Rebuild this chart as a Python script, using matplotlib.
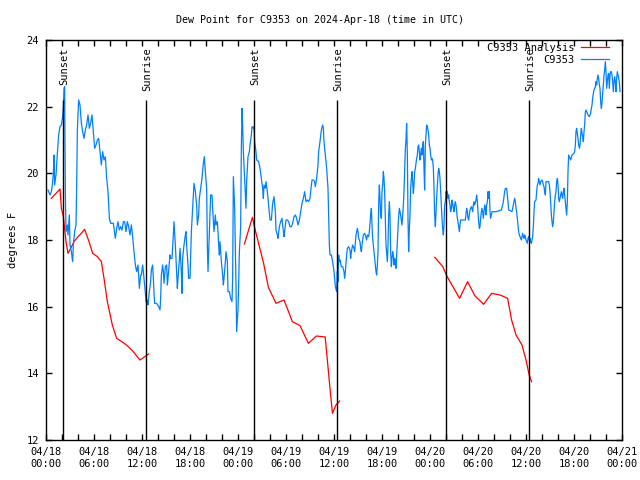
import matplotlib
matplotlib.use("Agg")
import matplotlib.pyplot as plt
import numpy as np

plt.rcParams['font.family'] = ['DejaVu Sans Mono']
plt.rcParams['font.size'] = 7.5

# hours since 2024-04-18 00:00 UTC, dew point in F
obs = [
    (0.25, 19.5), (0.5, 19.35), (0.67, 19.45), (0.79, 19.65), (0.92, 20.0), (1.0, 20.55), (1.08, 19.65),
    (1.25, 19.95), (1.42, 20.6), (1.58, 21.15), (1.75, 21.4), (1.92, 21.45), (2.08, 21.7), (2.17, 22.0),
    (2.25, 22.55), (2.33, 22.6), (2.42, 19.35), (2.5, 18.25), (2.67, 18.45), (2.75, 18.15), (2.92, 18.75),
    (3.0, 17.85), (3.17, 17.65), (3.33, 17.35), (3.42, 17.85), (3.58, 18.25), (3.75, 18.45), (3.83, 19.55),
    (3.92, 21.3), (4.08, 22.2), (4.25, 22.05), (4.42, 21.5), (4.58, 21.25), (4.75, 21.05), (4.92, 21.3),
    (5.08, 21.45), (5.25, 21.75), (5.42, 21.35), (5.58, 21.5), (5.75, 21.75), (5.92, 21.25), (6.08, 20.75),
    (6.25, 20.85), (6.42, 21.0), (6.58, 21.05), (6.75, 20.65), (6.92, 20.25), (7.08, 20.65), (7.25, 20.4),
    (7.42, 20.5), (7.58, 19.85), (7.75, 19.45), (7.92, 18.65), (8.08, 18.5), (8.42, 18.5), (8.67, 18.05),
    (8.83, 18.35), (9.0, 18.55), (9.17, 18.3), (9.33, 18.4), (9.5, 18.3), (9.67, 18.55), (9.83, 18.55),
    (10.0, 18.25), (10.17, 18.55), (10.33, 18.4), (10.5, 18.15), (10.67, 18.45), (10.83, 18.1), (11.0, 17.65),
    (11.17, 17.25), (11.33, 17.05), (11.5, 17.25), (11.67, 16.55), (11.83, 16.95), (11.92, 16.95),
    (12.08, 17.25), (12.17, 17.05), (12.33, 16.65), (12.42, 16.4), (12.5, 16.15), (12.67, 16.2), (12.75, 16.05),
    (12.92, 16.45), (13.08, 16.75), (13.17, 17.1), (13.33, 17.25), (13.42, 16.85), (13.5, 16.4), (13.58, 16.1),
    (13.83, 16.1), (14.08, 16.0), (14.25, 15.9), (14.33, 16.25), (14.42, 16.95), (14.58, 17.25), (14.67, 17.05),
    (14.75, 16.7), (14.92, 17.2), (15.08, 17.25), (15.17, 16.65), (15.25, 16.85), (15.42, 17.35), (15.5, 17.55),
    (15.58, 17.45), (15.75, 17.45), (15.92, 18.15), (16.0, 18.55), (16.17, 17.85), (16.33, 17.05), (16.42, 16.55),
    (16.5, 16.85), (16.67, 17.4), (16.75, 17.75), (16.92, 17.05), (17.0, 16.4), (17.08, 17.45), (17.25, 17.85),
    (17.42, 18.15), (17.5, 18.25), (17.58, 17.85), (17.75, 17.25), (17.83, 16.85), (18.0, 16.85), (18.17, 18.25),
    (18.33, 18.95), (18.5, 19.7), (18.67, 19.45), (18.83, 19.05), (18.92, 18.45), (19.08, 18.75), (19.17, 19.25),
    (19.33, 19.55), (19.5, 19.85), (19.67, 20.3), (19.79, 20.5), (19.92, 20.05), (20.08, 19.55), (20.17, 17.85),
    (20.25, 17.05), (20.42, 18.25), (20.58, 19.35), (20.75, 19.35), (20.83, 18.95), (21.0, 18.25), (21.17, 18.75),
    (21.25, 18.45), (21.42, 18.55), (21.5, 18.25), (21.58, 17.85), (21.67, 17.55), (21.75, 17.95), (21.92, 17.35),
    (22.08, 16.95), (22.17, 16.65), (22.25, 16.85), (22.42, 17.35), (22.5, 17.65), (22.67, 17.35), (22.75, 16.45),
    (22.92, 16.45), (23.08, 16.25), (23.25, 16.15), (23.33, 16.85), (23.42, 19.9), (23.58, 18.95), (23.75, 16.65),
    (23.83, 15.25), (24.0, 15.9), (24.08, 16.65), (24.17, 17.65), (24.33, 18.35), (24.42, 20.75), (24.5, 21.95),
    (24.58, 21.45), (24.67, 20.65), (24.75, 20.25), (24.83, 19.85), (24.92, 19.45), (25.0, 18.95), (25.08, 19.75),
    (25.25, 20.5), (25.42, 20.65), (25.5, 20.85), (25.67, 21.15), (25.75, 21.4), (25.92, 21.35), (26.0, 21.4),
    (26.08, 20.95), (26.25, 20.65), (26.33, 20.4), (26.58, 20.35), (26.75, 20.15), (26.92, 19.85), (27.08, 19.55),
    (27.17, 19.25), (27.25, 19.65), (27.42, 19.55), (27.5, 19.75), (27.67, 19.45), (27.75, 19.25), (27.92, 18.85),
    (28.0, 18.6), (28.17, 18.6), (28.33, 19.1), (28.5, 19.3), (28.67, 18.85), (28.75, 18.3), (28.92, 18.15),
    (29.0, 18.05), (29.17, 18.4), (29.33, 18.55), (29.5, 18.65), (29.58, 18.45), (29.75, 18.1), (29.83, 18.25),
    (30.0, 18.6), (30.17, 18.6), (30.33, 18.55), (30.5, 18.4), (30.67, 18.4), (30.83, 18.5), (31.0, 18.7),
    (31.17, 18.75), (31.33, 18.65), (31.5, 18.45), (31.67, 18.6), (31.83, 18.85), (32.0, 19.1), (32.17, 19.25),
    (32.33, 19.45), (32.5, 19.15), (32.67, 19.2), (32.83, 19.15), (33.0, 19.25), (33.17, 19.65), (33.25, 19.8),
    (33.42, 19.8), (33.58, 19.75), (33.67, 19.6), (33.83, 19.85), (34.0, 20.25), (34.08, 20.65), (34.25, 20.95),
    (34.42, 21.3), (34.58, 21.45), (34.67, 21.35), (34.75, 20.95), (34.92, 20.55), (35.08, 20.15), (35.25, 19.55),
    (35.42, 17.85), (35.5, 17.55), (35.67, 17.55), (35.83, 17.35), (36.0, 17.05), (36.17, 16.6), (36.33, 16.45),
    (36.42, 17.05), (36.5, 16.75), (36.58, 17.55), (36.67, 17.35), (36.75, 17.4), (36.92, 17.2), (37.08, 17.2),
    (37.25, 17.05), (37.33, 16.85), (37.42, 17.05), (37.58, 17.55), (37.67, 17.75), (37.83, 17.8), (38.0, 17.7),
    (38.08, 17.45), (38.17, 17.65), (38.33, 17.85), (38.5, 17.75), (38.58, 17.65), (38.75, 18.15), (38.92, 18.35),
    (39.0, 18.25), (39.08, 18.05), (39.25, 17.95), (39.33, 17.75), (39.42, 17.65), (39.5, 17.85), (39.67, 18.15),
    (39.83, 18.2), (39.92, 18.15), (40.08, 18.0), (40.17, 18.15), (40.33, 18.1), (40.42, 18.25), (40.58, 18.75),
    (40.67, 18.95), (40.75, 18.45), (40.83, 18.05), (41.0, 17.65), (41.08, 17.45), (41.17, 17.25), (41.25, 17.05),
    (41.33, 16.95), (41.42, 17.25), (41.5, 17.65), (41.58, 19.05), (41.67, 19.65), (41.75, 19.25), (41.83, 18.75),
    (41.92, 18.65), (42.0, 19.45), (42.08, 19.65), (42.17, 20.05), (42.25, 19.85), (42.33, 19.45), (42.42, 18.65),
    (42.5, 17.85), (42.67, 17.35), (42.75, 17.85), (42.83, 18.75), (42.92, 19.15), (43.0, 18.7), (43.08, 17.65),
    (43.17, 17.2), (43.25, 17.45), (43.33, 17.65), (43.42, 17.55), (43.5, 17.25), (43.58, 17.45), (43.67, 17.35),
    (43.75, 17.15), (43.83, 17.55), (43.92, 18.0), (44.0, 18.35), (44.08, 18.7), (44.17, 18.95), (44.25, 18.85),
    (44.33, 18.75), (44.42, 18.6), (44.5, 18.45), (44.58, 18.75), (44.67, 19.05), (44.75, 19.45), (44.83, 20.1),
    (44.92, 20.75), (45.0, 21.0), (45.08, 21.5), (45.17, 20.55), (45.25, 18.65), (45.33, 17.65), (45.42, 18.35),
    (45.5, 18.75), (45.58, 19.55), (45.67, 19.85), (45.75, 20.05), (45.83, 19.75), (45.92, 19.4), (46.0, 19.65),
    (46.08, 20.05), (46.17, 20.15), (46.25, 20.3), (46.33, 20.45), (46.42, 20.55), (46.5, 20.8), (46.58, 20.85),
    (46.67, 20.65), (46.75, 20.4), (46.83, 20.55), (46.92, 20.75), (47.0, 20.55), (47.08, 20.85), (47.17, 20.95),
    (47.25, 20.15), (47.33, 19.5), (47.42, 20.85), (47.5, 21.15), (47.58, 21.45), (47.67, 21.4), (47.75, 21.3),
    (47.83, 21.15), (47.92, 20.85), (48.0, 20.75), (48.08, 20.55), (48.17, 20.4), (48.25, 20.45), (48.33, 20.4),
    (48.42, 20.15), (48.5, 19.55), (48.58, 18.75), (48.67, 18.4), (48.75, 18.85), (48.83, 19.25), (48.92, 19.65),
    (49.0, 19.95), (49.08, 20.15), (49.17, 20.05), (49.25, 19.85), (49.33, 19.45), (49.42, 19.05), (49.5, 18.65),
    (49.58, 18.35), (49.67, 18.15), (49.75, 18.45), (49.83, 19.05), (49.92, 19.15), (50.0, 19.45), (50.08, 19.4),
    (50.17, 19.45), (50.25, 19.25), (50.33, 19.35), (50.42, 19.15), (50.5, 19.05), (50.58, 18.85), (50.67, 18.95),
    (50.75, 19.2), (50.83, 19.1), (50.92, 18.95), (51.0, 18.85), (51.08, 19.05), (51.17, 19.15), (51.25, 19.05),
    (51.33, 18.85), (51.42, 18.65), (51.5, 18.55), (51.58, 18.4), (51.67, 18.25), (51.75, 18.45), (51.83, 18.6),
    (52.08, 18.6), (52.42, 18.6), (52.58, 18.95), (52.67, 18.85), (52.75, 18.65), (52.83, 18.6), (52.92, 18.75),
    (53.0, 18.9), (53.17, 19.0), (53.25, 18.95), (53.33, 18.85), (53.42, 19.05), (53.5, 19.15), (53.58, 19.05),
    (53.75, 19.2), (53.83, 19.35), (53.92, 19.15), (54.0, 18.85), (54.08, 18.55), (54.17, 18.35), (54.25, 18.4),
    (54.33, 18.65), (54.42, 18.85), (54.5, 18.95), (54.58, 18.85), (54.67, 18.65), (54.75, 18.85), (54.83, 19.05),
    (54.92, 18.95), (55.0, 18.75), (55.08, 19.05), (55.17, 19.15), (55.25, 19.45), (55.33, 19.25), (55.42, 19.45),
    (55.5, 18.85), (55.58, 18.65), (55.67, 18.75), (55.75, 18.85), (56.25, 18.85), (56.92, 18.9), (57.08, 19.05),
    (57.17, 19.15), (57.25, 19.3), (57.33, 19.45), (57.42, 19.55), (57.58, 19.55), (57.67, 19.35), (57.75, 19.15),
    (57.83, 18.9), (58.25, 18.85), (58.33, 18.95), (58.42, 19.05), (58.5, 19.15), (58.58, 19.25), (58.67, 19.15),
    (58.75, 18.95), (58.83, 18.85), (58.92, 18.65), (59.0, 18.45), (59.08, 18.25), (59.17, 18.15), (59.25, 18.1),
    (59.33, 18.05), (59.42, 18.0), (59.5, 18.1), (59.58, 18.2), (59.67, 18.1), (59.75, 18.05), (59.83, 18.15),
    (59.92, 18.1), (60.0, 18.0), (60.08, 17.95), (60.17, 17.9), (60.25, 18.05), (60.33, 18.1), (60.42, 18.0),
    (60.5, 18.05), (60.58, 17.95), (60.67, 17.9), (60.75, 18.0), (60.83, 18.1), (60.92, 18.4), (61.0, 18.85),
    (61.08, 19.15), (61.25, 19.2), (61.33, 19.45), (61.42, 19.65), (61.5, 19.7), (61.58, 19.85), (61.67, 19.75),
    (61.75, 19.65), (61.83, 19.75), (62.0, 19.8), (62.08, 19.75), (62.17, 19.65), (62.25, 19.6), (62.33, 19.45),
    (62.42, 19.35), (62.5, 19.75), (62.83, 19.75), (62.92, 19.65), (63.0, 19.45), (63.08, 19.15), (63.17, 18.75),
    (63.25, 18.55), (63.33, 18.4), (63.42, 18.55), (63.5, 18.85), (63.58, 19.15), (63.67, 19.35), (63.75, 19.45),
    (63.83, 19.75), (63.92, 19.85), (64.0, 19.65), (64.08, 19.25), (64.17, 19.15), (64.25, 19.25), (64.33, 19.35),
    (64.42, 19.45), (64.5, 19.35), (64.58, 19.25), (64.67, 19.45), (64.75, 19.55), (64.83, 19.35), (64.92, 19.15),
    (65.0, 18.95), (65.08, 18.75), (65.17, 19.15), (65.25, 20.05), (65.33, 20.55), (65.5, 20.45), (65.58, 20.4),
    (65.75, 20.55), (66.0, 20.6), (66.08, 20.65), (66.17, 20.85), (66.25, 21.25), (66.33, 21.35), (66.42, 21.2),
    (66.5, 21.05), (66.58, 20.85), (66.67, 20.75), (66.75, 20.85), (66.83, 21.15), (66.92, 21.35), (67.0, 21.2),
    (67.08, 21.1), (67.17, 20.95), (67.25, 21.25), (67.33, 21.45), (67.42, 21.85), (67.5, 21.9), (67.58, 21.85),
    (67.67, 21.8), (67.75, 21.75), (67.92, 21.7), (68.08, 21.8), (68.17, 21.95), (68.25, 22.05), (68.33, 22.25),
    (68.42, 22.4), (68.5, 22.5), (68.67, 22.6), (68.75, 22.75), (68.83, 22.65), (68.92, 22.85), (69.0, 22.95),
    (69.08, 22.85), (69.17, 22.65), (69.25, 22.55), (69.33, 22.15), (69.42, 21.95), (69.5, 22.1), (69.58, 22.4),
    (69.67, 22.65), (69.75, 22.95), (69.83, 23.1), (69.92, 23.35), (70.0, 23.05), (70.08, 22.55), (70.17, 22.75),
    (70.25, 22.95), (70.33, 23.0), (70.42, 22.55), (70.5, 22.95), (70.58, 23.05), (70.67, 23.05), (70.75, 22.95),
    (70.83, 22.75), (70.92, 22.45), (71.0, 22.75), (71.08, 22.9), (71.17, 22.75), (71.25, 22.45), (71.33, 22.85),
    (71.42, 23.05), (71.5, 22.95), (71.58, 22.85), (71.67, 22.75), (71.75, 22.45),
]

# analysis, three pieces
ana1 = [(0.67, 19.25), (1.75, 19.53), (1.92, 18.95), (2.17, 18.7), (2.5, 17.95), (2.75, 17.6), (3.08, 17.75),
        (3.5, 17.95), (4.0, 18.1), (4.42, 18.2), (4.83, 18.32), (5.38, 17.95), (5.83, 17.6), (6.42, 17.5),
        (6.92, 17.35), (7.25, 16.85), (7.67, 16.15), (8.29, 15.45), (8.83, 15.05), (9.67, 14.92), (10.3, 14.8),
        (10.9, 14.65), (11.75, 14.4), (12.83, 14.58)]
ana2 = [(24.8, 17.88), (25.8, 18.68), (26.1, 18.35), (27.2, 17.3), (27.8, 16.58), (28.75, 16.1), (29.75, 16.2),
        (30.8, 15.55), (31.75, 15.43), (32.8, 14.9), (33.8, 15.12), (34.9, 15.09), (35.4, 13.8), (35.8, 12.8),
        (36.25, 13.05), (36.7, 13.17)]
ana3 = [(48.6, 17.48), (49.6, 17.2), (50.1, 16.92), (51.7, 16.25), (52.7, 16.75), (53.6, 16.33), (54.7, 16.07),
        (55.7, 16.4), (56.75, 16.35), (57.7, 16.25), (58.2, 15.6), (58.75, 15.15), (59.5, 14.85), (60.0, 14.4),
        (60.4, 13.95), (60.7, 13.75)]

sunset = [2.12, 26.05, 50.05]
sunrise = [12.5, 36.42, 60.42]

xtick_hours = list(range(0, 73, 2))
xtick_names = ['04/18\n00:00', '04/18\n06:00', '04/18\n12:00', '04/18\n18:00',
               '04/19\n00:00', '04/19\n06:00', '04/19\n12:00', '04/19\n18:00',
               '04/20\n00:00', '04/20\n06:00', '04/20\n12:00', '04/20\n18:00', '04/21\n00:00']

fig = plt.figure(figsize=(6.4, 4.8), dpi=100)
ax = fig.add_axes([46/640, 40/480, 576/640, 400/480])

blue = '#0080ff'
red = '#ff0000'

for i, seg in enumerate([ana1, ana2, ana3]):
    h, v = zip(*seg)
    ax.plot(h, v, color=red, lw=0.9, label='C9353 Analysis' if i == 0 else None)

h, v = zip(*obs)
ax.plot(h, v, color=blue, lw=0.9, label='C9353')

for s in sunset:
    ax.vlines(s, 12, 22.2, colors='k', lw=1.0)
    ax.text(s + 0.1, 23.78, 'Sunset', rotation=90, ha='center', va='top')
for s in sunrise:
    ax.vlines(s, 12, 22.2, colors='k', lw=1.0)
    ax.text(s + 0.1, 23.78, 'Sunrise', rotation=90, ha='center', va='top')

ax.set_xlim(0, 72)
ax.set_ylim(12, 24)
ax.set_xticks(xtick_hours)
labels = []
for hr in xtick_hours:
    if hr % 6 == 0:
        labels.append(xtick_names[hr // 6])
    else:
        labels.append('')
ax.set_xticklabels(labels, linespacing=1.3)
ax.set_yticks(np.arange(12, 25, 2))
ax.tick_params(direction='in', top=True, right=True, length=4, width=1)
ax.tick_params(axis='x', pad=5)
ax.tick_params(axis='y', pad=5)
for sp in ax.spines.values():
    sp.set_linewidth(1.0)

ax.set_ylabel('degrees F')
ax.yaxis.set_label_coords(-28/576, 0.5)

fig.text(0.5, 1 - 20/480, 'Dew Point for C9353 on 2024-Apr-18 (time in UTC)', ha='center', va='center',
         fontsize=7.2)

ax.legend(loc='upper right', bbox_to_anchor=(609/640, 1 - 43/480), bbox_transform=fig.transFigure,
          frameon=False, markerfirst=False, handlelength=2.7, handletextpad=0.6,
          borderpad=0, borderaxespad=0, labelspacing=0.15)

fig.savefig('out.png', dpi=100)
